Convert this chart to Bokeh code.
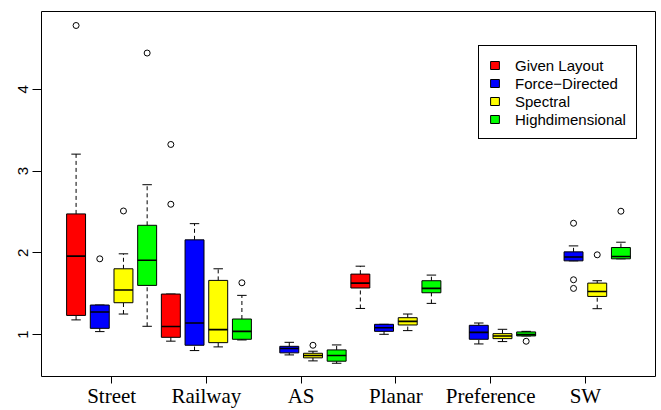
import math
from bokeh.plotting import figure
from bokeh.models import Range1d, FixedTicker, Legend, LegendItem, ColumnDataSource
from bokeh.embed import file_html
from bokeh.resources import INLINE

NaN = float("nan")

categories = ["Street", "Railway", "AS", "Planar", "Preference", "SW"]
series_names = ["Given Layout", "Force\u2212Directed", "Spectral", "Highdimensional"]
series_colors = ["#FF0000", "#0000FF", "#FFFF00", "#00FF00"]

# Given Layout: lower whisker, Q1, median, Q3, upper whisker (per category)
given_lo  = [1.18, 0.92, NaN, 1.32, NaN, NaN]
given_q1  = [1.235, 0.967, NaN, 1.57, NaN, NaN]
given_med = [1.96, 1.10, NaN, 1.63, NaN, NaN]
given_q3  = [2.476, 1.496, NaN, 1.74, NaN, NaN]
given_hi  = [3.207, 1.496, NaN, 1.837, NaN, NaN]
given_out = [[4.78], [3.325, 2.594], [], [], [], []]

# Force-Directed
force_lo  = [1.037, 0.805, 0.752, 1.004, 0.886, 1.902]
force_q1  = [1.077, 0.87, 0.777, 1.04, 0.943, 1.902]
force_med = [1.277, 1.142, 0.83, 1.085, 1.028, 1.95]
force_q3  = [1.362, 2.159, 0.857, 1.126, 1.114, 2.012]
force_hi  = [1.362, 2.357, 0.906, 1.126, 1.142, 2.085]
force_out = [[1.927], [], [], [], [], [2.362, 1.671, 1.565]]

# Spectral
spec_lo  = [1.252, 0.85, 0.679, 1.049, 0.915, 1.317]
spec_q1  = [1.39, 0.902, 0.716, 1.118, 0.951, 1.467]
spec_med = [1.545, 1.061, 0.744, 1.162, 0.984, 1.528]
spec_q3  = [1.805, 1.663, 0.772, 1.207, 1.012, 1.63]
spec_hi  = [1.988, 1.805, 0.797, 1.252, 1.065, 1.659]
spec_out = [[2.512], [], [0.87], [], [], [1.976]]

# Highdimensional
high_lo  = [1.102, 0.935, 0.65, 1.382, 0.984, 1.927]
high_q1  = [1.602, 0.943, 0.675, 1.512, 0.984, 1.927]
high_med = [1.91, 1.04, 0.744, 1.565, 1.0, 1.955]
high_q3  = [2.337, 1.191, 0.813, 1.659, 1.033, 2.065]
high_hi  = [2.833, 1.48, 0.874, 1.728, 1.04, 2.13]
high_out = [[4.443], [1.634], [], [], [0.919], [2.509]]

y_ticks = [1, 2, 3, 4]

all_series = [
    (given_lo, given_q1, given_med, given_q3, given_hi, given_out),
    (force_lo, force_q1, force_med, force_q3, force_hi, force_out),
    (spec_lo, spec_q1, spec_med, spec_q3, spec_hi, spec_out),
    (high_lo, high_q1, high_med, high_q3, high_hi, high_out),
]

BOX_W = 0.8
CAP_W = 0.4

p = figure(width=661, height=410, output_backend="svg", toolbar_location=None,
           x_range=Range1d(-2.96, 22.96), y_range=Range1d(0.488, 4.951),
           min_border_left=41, min_border_right=6, min_border_top=11, min_border_bottom=33)
p.xgrid.visible = False
p.ygrid.visible = False
p.outline_line_color = "black"
p.outline_line_width = 1
p.outline_line_alpha = 1
p.background_fill_color = "white"
p.border_fill_color = "white"

legend_items = []
for si, (lo, q1, med, q3, hi, outs) in enumerate(all_series):
    xs, b_lo, b_q1, b_med, b_q3, b_hi = [], [], [], [], [], []
    ox, oy = [], []
    for gi in range(len(categories)):
        x = 4 * gi - 1.5 + si
        for v in outs[gi]:
            ox.append(x)
            oy.append(v)
        if math.isnan(q1[gi]):
            continue
        xs.append(x)
        b_lo.append(lo[gi]); b_q1.append(q1[gi]); b_med.append(med[gi])
        b_q3.append(q3[gi]); b_hi.append(hi[gi])
    src = ColumnDataSource(dict(
        x=xs, lo=b_lo, q1=b_q1, med=b_med, q3=b_q3, hi=b_hi,
        xl=[x - BOX_W / 2 for x in xs], xr=[x + BOX_W / 2 for x in xs],
        cl=[x - CAP_W / 2 for x in xs], cr=[x + CAP_W / 2 for x in xs],
    ))
    # whiskers
    p.segment(x0="x", y0="lo", x1="x", y1="q1", source=src, line_color="black",
              line_width=1, line_dash="4 3")
    p.segment(x0="x", y0="q3", x1="x", y1="hi", source=src, line_color="black",
              line_width=1, line_dash="4 3")
    # caps
    p.segment(x0="cl", y0="lo", x1="cr", y1="lo", source=src, line_color="black", line_width=1)
    p.segment(x0="cl", y0="hi", x1="cr", y1="hi", source=src, line_color="black", line_width=1)
    # boxes
    r = p.vbar(x="x", width=BOX_W, bottom="q1", top="q3", source=src,
               fill_color=series_colors[si], line_color="black", line_width=1)
    # medians
    p.segment(x0="xl", y0="med", x1="xr", y1="med", source=src, line_color="black", line_width=1.6)
    # outliers
    if ox:
        p.scatter(x=ox, y=oy, marker="circle", size=6, fill_color=None,
                  line_color="black", line_width=1)
    legend_items.append(LegendItem(label=series_names[si], renderers=[r]))

# axes
p.xaxis.ticker = FixedTicker(ticks=[4 * i for i in range(len(categories))])
p.xaxis.major_label_overrides = {4 * i: c for i, c in enumerate(categories)}
p.xaxis.bounds = (0, 20)
p.xaxis.axis_label = None
p.xaxis.major_label_text_font = "Liberation Serif"
p.xaxis.major_label_text_font_size = "21px"
p.xaxis.major_label_text_color = "black"
p.xaxis.major_tick_out = 7
p.xaxis.major_tick_in = 0
p.xaxis.minor_tick_line_color = None
p.xaxis.major_label_standoff = 0
p.xaxis.axis_line_color = "black"

p.yaxis.ticker = FixedTicker(ticks=y_ticks)
p.yaxis.bounds = (1, 4)
p.yaxis.axis_label = None
p.yaxis.major_label_orientation = "vertical"
p.yaxis.major_label_text_font = "Liberation Sans"
p.yaxis.major_label_text_font_size = "15px"
p.yaxis.major_label_text_color = "black"
p.yaxis.major_tick_out = 9
p.yaxis.major_tick_in = 0
p.yaxis.minor_tick_line_color = None
p.yaxis.major_label_standoff = 4
p.yaxis.axis_line_color = "black"

legend = Legend(items=legend_items, location=(437, 237))
legend.label_text_font = "Liberation Sans"
legend.label_text_font_size = "15px"
legend.label_text_color = "black"
legend.glyph_width = 11
legend.glyph_height = 10
legend.label_standoff = 15
legend.label_height = 18
legend.spacing = 0
legend.padding = 10
legend.margin = 0
legend.border_line_color = "black"
legend.border_line_width = 1
legend.border_line_alpha = 1
legend.background_fill_color = "white"
legend.background_fill_alpha = 1
p.add_layout(legend, "center")

open("out.html", "w").write(file_html(p, INLINE))
